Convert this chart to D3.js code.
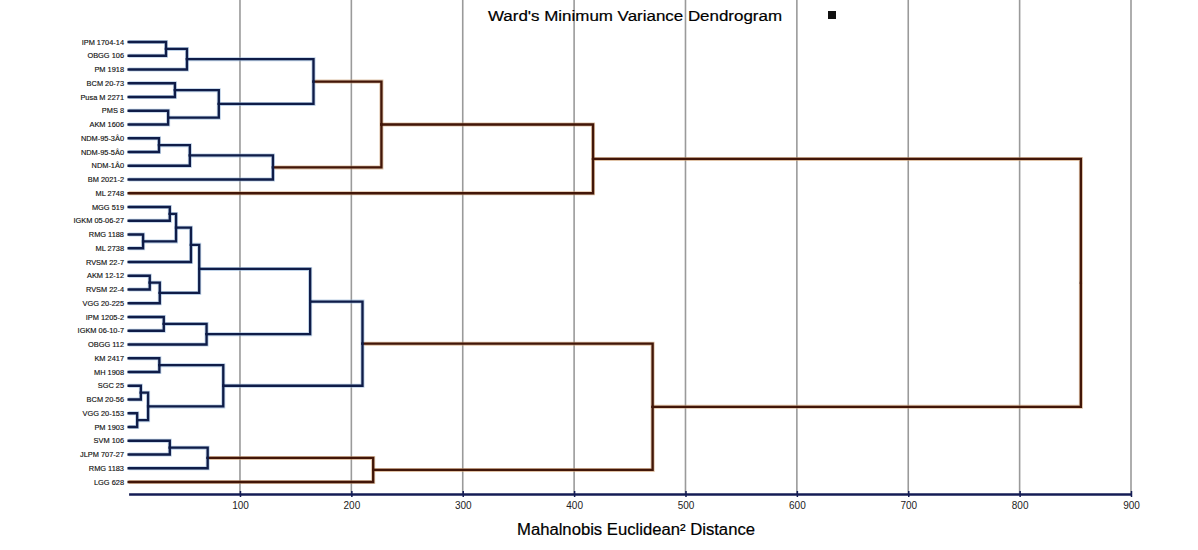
<!DOCTYPE html>
<html lang="en">
<head>
<meta charset="utf-8">
<title>Ward's Minimum Variance Dendrogram</title>
<script src="https://d3js.org/d3.v7.min.js"></script>
<style>
  body { margin: 0; background: #fff; }
  svg { display: block; font-family: "Liberation Sans", Arial, sans-serif; }
</style>
</head>
<body>
<script>
// leaf labels, top to bottom
var leaves = [
  "IPM 1704-14", "OBGG 106", "PM 1918", "BCM 20-73", "Pusa M 2271", "PMS 8",
  "AKM 1606", "NDM-95-3Â0", "NDM-95-5Â0", "NDM-1Â0", "BM 2021-2", "ML 2748",
  "MGG 519", "IGKM 05-06-27", "RMG 1188", "ML 2738", "RVSM 22-7", "AKM 12-12",
  "RVSM 22-4", "VGG 20-225", "IPM 1205-2", "IGKM 06-10-7", "OBGG 112", "KM 2417",
  "MH 1908", "SGC 25", "BCM 20-56", "VGG 20-153", "PM 1903", "SVM 106",
  "JLPM 707-27", "RMG 1183", "LGG 628"
];

// linkage: ids < 33 are leaves, merge k gets id 33 + k
var mergeLeft  = [0, 33, 3, 5, 35, 34, 7, 39, 40, 38, 42, 12, 14, 44, 46, 17, 48, 47, 20, 51, 50, 23, 25, 27, 55, 54, 53, 29, 60, 61, 59, 43];
var mergeRight = [1, 2, 4, 6, 36, 37, 8, 9, 10, 41, 11, 13, 15, 45, 16, 18, 19, 49, 21, 22, 52, 24, 26, 28, 56, 57, 58, 30, 31, 32, 62, 63];
var mergeHeight = [33.6, 52.4, 41.6, 35.5, 81, 166, 27.3, 55, 129.6, 227, 417, 37, 13, 42.6, 56, 19, 28, 63.4, 31.6, 70, 163, 27.6, 11, 7.7, 17.5, 85, 210, 37, 71, 219.6, 470.5, 855];

var xTicks = [100, 200, 300, 400, 500, 600, 700, 800, 900];
var colorThreshold = 215;

var W = 1198, H = 550;
var navy = "#0f1c48", brown = "#421608";

var svg = d3.select("body").append("svg")
  .attr("width", W).attr("height", H);

var x = d3.scaleLinear().domain([0, 900]).range([128.6, 1131]);
var y = d3.scalePoint().domain(leaves).range([42, 482]);

// build nested tree from the linkage
var nodes = leaves.map(function (name) { return { name: name, height: 0 }; });
mergeLeft.forEach(function (l, k) {
  nodes.push({ height: mergeHeight[k], children: [nodes[l], nodes[mergeRight[k]]] });
});
var root = d3.hierarchy(nodes[nodes.length - 1]);
root.eachAfter(function (d) {
  d.px = x(d.data.height);
  d.py = d.children ? d3.mean(d.children, function (c) { return c.py; }) : y(d.data.name);
});

// grid
var axisY = 494;
svg.append("g").selectAll("line")
  .data(xTicks).enter().append("line")
  .attr("x1", function (d) { return x(d); })
  .attr("x2", function (d) { return x(d); })
  .attr("y1", 0).attr("y2", axisY)
  .attr("stroke", "#9a9a9a")
  .attr("stroke-width", 1.6);

// links: child -> parent elbow, coloured by parent height
var links = root.links();
var elbow = function (d) {
  return "M" + d.target.px + "," + d.target.py + "H" + d.source.px + "V" + d.source.py;
};
var linkColor = function (d) { return d.source.data.height > colorThreshold ? brown : navy; };

svg.append("g").selectAll("path")
  .data(links).enter().append("path")
  .attr("d", elbow)
  .attr("fill", "none")
  .attr("stroke", function (d) { return d.source.data.height > colorThreshold ? "#c99a6a" : "#8fb0d6"; })
  .attr("stroke-width", 4)
  .attr("stroke-opacity", 0.6);

svg.append("g").selectAll("path")
  .data(links).enter().append("path")
  .attr("d", elbow)
  .attr("fill", "none")
  .attr("stroke", linkColor)
  .attr("stroke-width", 2.3)
  .attr("stroke-linecap", "square");

// leaf labels
svg.append("g").selectAll("text")
  .data(leaves).enter().append("text")
  .attr("x", 124)
  .attr("y", function (d) { return y(d); })
  .attr("dy", "0.35em")
  .attr("text-anchor", "end")
  .attr("font-size", 7.4)
  .attr("fill", "#111")
  .attr("stroke", "#111").attr("stroke-width", 0.15)
  .text(function (d) { return d; });

// axis
var axis = svg.append("g")
  .attr("transform", "translate(0," + axisY + ")")
  .call(d3.axisBottom(x).tickValues(xTicks).tickSize(3).tickSizeOuter(0).tickPadding(5));
axis.select(".domain").attr("stroke", "#141c55").attr("stroke-width", 2.6);
axis.selectAll(".tick line").attr("stroke", "#141c55").attr("stroke-width", 1.5).attr("y1", -3);
axis.selectAll(".tick text")
  .attr("font-family", "'Liberation Sans', Arial, sans-serif")
  .attr("font-size", 10).attr("fill", "#222");

svg.append("text")
  .attr("x", 636).attr("y", 535)
  .attr("text-anchor", "middle")
  .attr("font-size", 16)
  .attr("textLength", 238).attr("lengthAdjust", "spacingAndGlyphs")
  .attr("fill", "#000")
  .attr("stroke", "#000").attr("stroke-width", 0.2)
  .text("Mahalnobis Euclidean² Distance");

// title
svg.append("text")
  .attr("x", 635).attr("y", 21)
  .attr("text-anchor", "middle")
  .attr("font-size", 15.5)
  .attr("textLength", 294).attr("lengthAdjust", "spacingAndGlyphs")
  .attr("fill", "#000")
  .attr("stroke", "#000").attr("stroke-width", 0.2)
  .text("Ward's Minimum Variance Dendrogram");

svg.append("rect")
  .attr("x", 828).attr("y", 11)
  .attr("width", 8).attr("height", 8)
  .attr("fill", "#111");
</script>
</body>
</html>
